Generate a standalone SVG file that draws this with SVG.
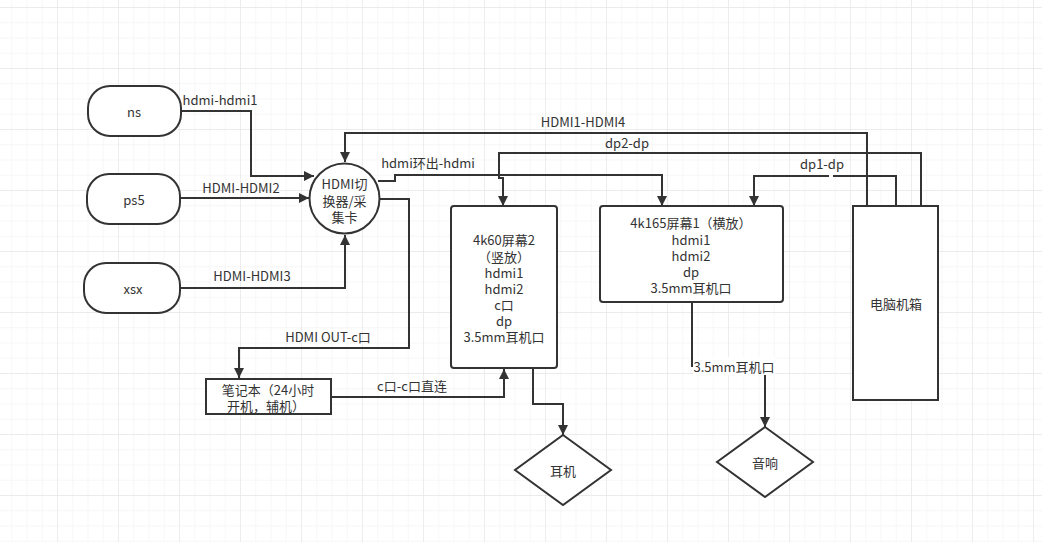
<svg xmlns="http://www.w3.org/2000/svg" width="1042" height="542" viewBox="0 0 1042 542">
<style>
.n{fill:#fff;stroke:#333;stroke-width:2}
.t{font-family:"Noto Sans CJK SC","Noto Sans",sans-serif;font-size:13px;fill:#333;text-anchor:middle;dominant-baseline:central}
.l{font-family:"Noto Sans CJK SC","Noto Sans",sans-serif;font-size:13px;fill:#333;text-anchor:middle;dominant-baseline:central}
.e{fill:none;stroke:#333;stroke-width:2}
.a{marker-end:url(#arr)}
</style>
<defs>
<marker id="arr" markerUnits="userSpaceOnUse" markerWidth="10" markerHeight="10" refX="10" refY="5" orient="auto">
<path d="M0,0 L10,5 L0,10 z" fill="#333"/>
</marker>
<pattern id="minor" patternUnits="userSpaceOnUse" x="-4" y="7" width="15.25" height="15.25">
<path d="M0,0 H15.25 M0,0 V15.25" fill="none" stroke="#f3f3f3" stroke-width="1.2"/>
</pattern>
<pattern id="major" patternUnits="userSpaceOnUse" x="-4" y="7" width="61" height="61">
<path d="M0,0 H61 M0,0 V61" fill="none" stroke="#e8e8e8" stroke-width="1.4"/>
</pattern>
</defs>
<rect width="1042" height="542" fill="#fff"/>
<rect width="1042" height="542" fill="url(#minor)"/>
<rect width="1042" height="542" fill="url(#major)"/>

<g id="connectors">
<path class="e a" d="M181,111 H251 V176 H314"/>
<path class="e a" d="M180,198 H309"/>
<path class="e a" d="M180,288 H345 V235"/>
<path class="e a" d="M867,206 V133 H345 V162"/>
<path class="e a" d="M921,206 V153 H499 V178 H503 V206"/>
<path class="e a" d="M378,181 H395 V175 H662 V206"/>
<path class="e" d="M896,206 V176 H833"/>
<path class="e a" d="M829,176 H754 V206"/>
<path class="e a" d="M379,199 H409 V348 H239 V378"/>
<path class="e a" d="M331,397 H504 V369"/>
<path class="e a" d="M533,368 V404 H563 V435"/>
<path class="e a" d="M692,302 V366 H765 V427"/>
<text class="l" x="220" y="99">hdmi-hdmi1</text>
<text class="l" x="241" y="187">HDMI-HDMI2</text>
<text class="l" x="252" y="275">HDMI-HDMI3</text>
<text class="l" x="583" y="121">HDMI1-HDMI4</text>
<text class="l" x="627" y="142">dp2-dp</text>
<text class="l" x="428" y="162">hdmi环出-hdmi</text>
<text class="l" x="822" y="163">dp1-dp</text>
<text class="l" x="328" y="336">HDMI OUT-c口</text>
<text class="l" x="412" y="385">c口-c口直连</text>
<rect x="693" y="357" width="82" height="18" fill="#fff"/>
<text class="l" x="734" y="366">3.5mm耳机口</text>
</g>

<g id="ns">
<rect class="n" x="88" y="86" width="93" height="50" rx="22"/>
<text class="t" x="134" y="111">ns</text>
</g>
<g id="ps5">
<rect class="n" x="87" y="174" width="93" height="50" rx="22"/>
<text class="t" x="134" y="199">ps5</text>
</g>
<g id="xsx">
<rect class="n" x="84" y="263" width="96" height="50" rx="22"/>
<text class="t" x="133" y="288">xsx</text>
</g>
<g id="switch">
<circle class="n" cx="344.5" cy="198.5" r="35"/>
<text class="t" x="344.5" y="183">HDMI切</text>
<text class="t" x="344.5" y="200">换器/采</text>
<text class="t" x="344.5" y="216">集卡</text>
</g>
<g id="notebook">
<rect class="n" x="206" y="379" width="125" height="35"/>
<text class="t" x="268" y="389">笔记本（24小时</text>
<text class="t" x="266" y="405">开机，辅机）</text>
</g>
<g id="screen2">
<rect class="n" x="451" y="206" width="106" height="162" rx="3"/>
<text class="t" x="504" y="239">4k60屏幕2</text>
<text class="t" x="504" y="256">（竖放）</text>
<text class="t" x="504" y="272">hdmi1</text>
<text class="t" x="504" y="288">hdmi2</text>
<text class="t" x="504" y="304">c口</text>
<text class="t" x="504" y="320">dp</text>
<text class="t" x="504" y="336">3.5mm耳机口</text>
</g>
<g id="screen1">
<rect class="n" x="600" y="206" width="183" height="96" rx="3"/>
<text class="t" x="691" y="222">4k165屏幕1（横放）</text>
<text class="t" x="691" y="239">hdmi1</text>
<text class="t" x="691" y="255">hdmi2</text>
<text class="t" x="691" y="271">dp</text>
<text class="t" x="691" y="287">3.5mm耳机口</text>
</g>
<g id="pc">
<rect class="n" x="853" y="206" width="85" height="194"/>
<text class="t" x="896" y="303">电脑机箱</text>
</g>
<g id="earphone">
<polygon class="n" points="563,435 611,470 563,505 515,470"/>
<text class="t" x="563" y="470">耳机</text>
</g>
<g id="speaker">
<polygon class="n" points="765,427 813,462 765,497 717,462"/>
<text class="t" x="765" y="462">音响</text>
</g>
</svg>
